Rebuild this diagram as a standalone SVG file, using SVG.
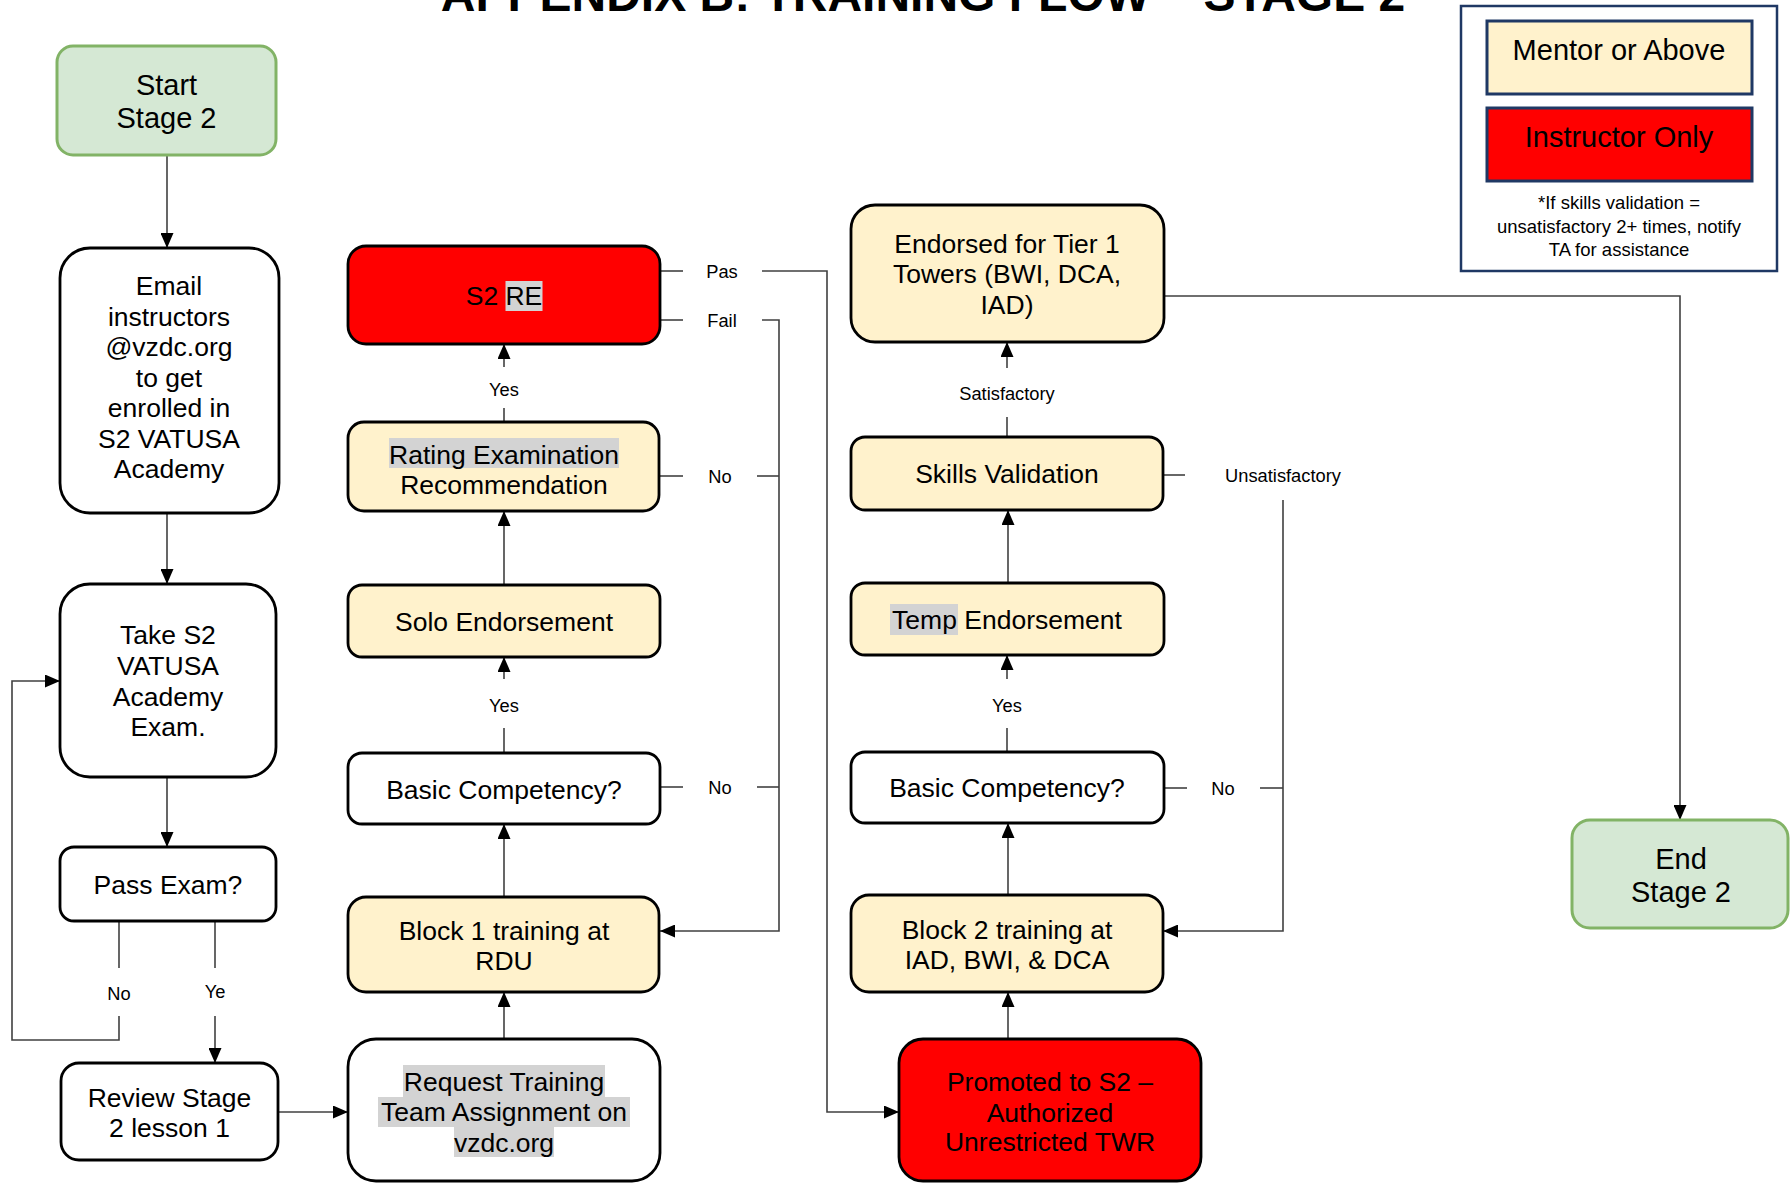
<svg xmlns="http://www.w3.org/2000/svg" width="1790" height="1183" viewBox="0 0 1790 1183">
  <defs>
    <style>
      .t { font-family: "Liberation Sans", Arial, sans-serif; font-size: 26.5px; text-anchor: middle; fill: #000; }
      .big { font-size: 29px; }
      .lbl { font-size: 18.3px; }
      .note { font-size: 18.5px; }
      .title { font-family: "Liberation Sans", Arial, sans-serif; font-size: 48px; font-weight: bold; text-anchor: middle; fill: #000; }
      .box { stroke: #000; stroke-width: 2.8; }
      .white { fill: #fff; }
      .cream { fill: #fff2cc; }
      .red { fill: #ff0000; }
      .green { fill: #d5e8d4; stroke: #82b366; stroke-width: 3; }
      .hl { fill: #d3d3d3; }
      .legend { fill: #fff; stroke: #1f3864; stroke-width: 2.5; }
      .lbox { stroke: #1f3864; stroke-width: 3; }
      .conn { fill: none; stroke: #404040; stroke-width: 1.6; }
    </style>
    <marker id="arrow" viewBox="0 0 15 13" markerWidth="15" markerHeight="13" refX="15" refY="6.5" orient="auto" markerUnits="userSpaceOnUse">
      <path d="M0,0 L15,6.5 L0,13 z" fill="#000"/>
    </marker>
  </defs>

  <rect width="1790" height="1183" fill="#fff"/>

  <!-- page heading, clipped by the top edge -->
  <text class="title" x="923" y="11">APPENDIX B: TRAINING FLOW – STAGE 2</text>

  <!-- legend -->
  <g id="legend">
    <rect class="legend" x="1461" y="6" width="316" height="265"/>
    <rect class="lbox cream" x="1487" y="21" width="265" height="73"/>
    <text class="t big" x="1619" y="60">Mentor or Above</text>
    <rect class="lbox red" x="1487" y="108" width="265" height="73"/>
    <text class="t big" x="1619" y="147">Instructor Only</text>
    <text class="t note" x="1619" y="209">*If skills validation =</text>
    <text class="t note" x="1619" y="232.5">unsatisfactory 2+ times, notify</text>
    <text class="t note" x="1619" y="255.5">TA for assistance</text>
  </g>

  <!-- connectors -->
  <g id="connectors">
    <path class="conn" d="M167,155 V248" marker-end="url(#arrow)"/>
    <path class="conn" d="M167,513 V584" marker-end="url(#arrow)"/>
    <path class="conn" d="M167,777 V847" marker-end="url(#arrow)"/>
    <!-- Pass Exam? branches -->
    <path class="conn" d="M119,921 V968"/>
    <path class="conn" d="M119,1016 V1040 H12 V681 H60" marker-end="url(#arrow)"/>
    <text class="t lbl" x="119" y="999.5">No</text>
    <path class="conn" d="M215,921 V968"/>
    <path class="conn" d="M215,1016 V1063" marker-end="url(#arrow)"/>
    <text class="t lbl" x="215" y="997.5">Ye</text>
    <path class="conn" d="M278,1112 H348" marker-end="url(#arrow)"/>
    <!-- block 1 column -->
    <path class="conn" d="M504,1039 V992" marker-end="url(#arrow)"/>
    <path class="conn" d="M504,897 V824" marker-end="url(#arrow)"/>
    <path class="conn" d="M504,753 V728"/>
    <path class="conn" d="M504,679 V657" marker-end="url(#arrow)"/>
    <text class="t lbl" x="504" y="711.5">Yes</text>
    <path class="conn" d="M504,585 V511" marker-end="url(#arrow)"/>
    <path class="conn" d="M504,422 V408"/>
    <path class="conn" d="M504,367 V344" marker-end="url(#arrow)"/>
    <text class="t lbl" x="504" y="395.5">Yes</text>
    <!-- S2 RE outcomes -->
    <path class="conn" d="M660,271 H683"/>
    <path class="conn" d="M762,271 H827 V1112 H899" marker-end="url(#arrow)"/>
    <text class="t lbl" x="722" y="277.5">Pas</text>
    <path class="conn" d="M660,320 H683"/>
    <path class="conn" d="M762,320 H779 V931 H660" marker-end="url(#arrow)"/>
    <text class="t lbl" x="722" y="326.5">Fail</text>
    <path class="conn" d="M660,476 H683"/>
    <path class="conn" d="M757,476 H779"/>
    <text class="t lbl" x="720" y="482.5">No</text>
    <path class="conn" d="M660,787 H683"/>
    <path class="conn" d="M757,787 H779"/>
    <text class="t lbl" x="720" y="793.5">No</text>
    <!-- block 2 column -->
    <path class="conn" d="M1008,1039 V992" marker-end="url(#arrow)"/>
    <path class="conn" d="M1008,895 V823" marker-end="url(#arrow)"/>
    <path class="conn" d="M1007,752 V728"/>
    <path class="conn" d="M1007,679 V655" marker-end="url(#arrow)"/>
    <text class="t lbl" x="1007" y="711.5">Yes</text>
    <path class="conn" d="M1008,583 V510" marker-end="url(#arrow)"/>
    <path class="conn" d="M1007,437 V417"/>
    <path class="conn" d="M1007,368 V342" marker-end="url(#arrow)"/>
    <text class="t lbl" x="1007" y="399.5">Satisfactory</text>
    <path class="conn" d="M1163,475 H1185"/>
    <path class="conn" d="M1283,500 V931 H1163" marker-end="url(#arrow)"/>
    <text class="t lbl" x="1283" y="481.5">Unsatisfactory</text>
    <path class="conn" d="M1164,788 H1187"/>
    <path class="conn" d="M1260,788 H1283"/>
    <text class="t lbl" x="1223" y="794.5">No</text>
    <path class="conn" d="M1164,296 H1680 V820" marker-end="url(#arrow)"/>
  </g>

  <!-- nodes -->
  <g id="start">
    <rect class="green" x="57" y="46" width="219" height="109" rx="16"/>
    <text class="t big" x="166.5" y="95">Start</text>
    <text class="t big" x="166.5" y="128">Stage 2</text>
  </g>

  <g id="email">
    <rect class="box white" x="60" y="248" width="219" height="265" rx="30"/>
    <text class="t" x="169" y="295">Email</text>
    <text class="t" x="169" y="325.5">instructors</text>
    <text class="t" x="169" y="356">@vzdc.org</text>
    <text class="t" x="169" y="386.5">to get</text>
    <text class="t" x="169" y="417">enrolled in</text>
    <text class="t" x="169" y="447.5">S2 VATUSA</text>
    <text class="t" x="169" y="478">Academy</text>
  </g>

  <g id="take-exam">
    <rect class="box white" x="60" y="584" width="216" height="193" rx="30"/>
    <text class="t" x="168" y="644">Take S2</text>
    <text class="t" x="168" y="675">VATUSA</text>
    <text class="t" x="168" y="706">Academy</text>
    <text class="t" x="168" y="736">Exam.</text>
  </g>

  <g id="pass-exam">
    <rect class="box white" x="60" y="847" width="216" height="74" rx="14"/>
    <text class="t" x="168" y="894">Pass Exam?</text>
  </g>

  <g id="review">
    <rect class="box white" x="61" y="1063" width="217" height="97" rx="18"/>
    <text class="t" x="169.5" y="1107">Review Stage</text>
    <text class="t" x="169.5" y="1137">2 lesson 1</text>
  </g>

  <g id="s2-re">
    <rect class="box red" x="348" y="246" width="312" height="98" rx="18"/>
    <rect class="hl" x="505.5" y="281" width="37" height="30"/>
    <text class="t" x="504" y="305">S2 RE</text>
  </g>

  <g id="rating-rec">
    <rect class="box cream" x="348" y="422" width="311" height="89" rx="16"/>
    <rect class="hl" x="389" y="438" width="230" height="30"/>
    <text class="t" x="504" y="464">Rating Examination</text>
    <text class="t" x="504" y="494">Recommendation</text>
  </g>

  <g id="solo">
    <rect class="box cream" x="348" y="585" width="312" height="72" rx="14"/>
    <text class="t" x="504" y="631">Solo Endorsement</text>
  </g>

  <g id="basic-1">
    <rect class="box white" x="348" y="753" width="312" height="71" rx="14"/>
    <text class="t" x="504" y="799">Basic Competency?</text>
  </g>

  <g id="block-1">
    <rect class="box cream" x="348" y="897" width="311" height="95" rx="18"/>
    <text class="t" x="504" y="940">Block 1 training at</text>
    <text class="t" x="504" y="970">RDU</text>
  </g>

  <g id="request">
    <rect class="box white" x="348" y="1039" width="312" height="142" rx="28"/>
    <rect class="hl" x="403" y="1065" width="202" height="32"/>
    <rect class="hl" x="378" y="1097" width="252" height="30"/>
    <rect class="hl" x="454" y="1127" width="100" height="30"/>
    <text class="t" x="504" y="1091">Request Training</text>
    <text class="t" x="504" y="1121">Team Assignment on</text>
    <text class="t" x="504" y="1152">vzdc.org</text>
  </g>

  <g id="endorsed-tier1">
    <rect class="box cream" x="851" y="205" width="313" height="137" rx="24"/>
    <text class="t" x="1007" y="253">Endorsed for Tier 1</text>
    <text class="t" x="1007" y="283">Towers (BWI, DCA,</text>
    <text class="t" x="1007" y="314">IAD)</text>
  </g>

  <g id="skills">
    <rect class="box cream" x="851" y="437" width="312" height="73" rx="14"/>
    <text class="t" x="1007" y="483">Skills Validation</text>
  </g>

  <g id="temp">
    <rect class="box cream" x="851" y="583" width="313" height="72" rx="14"/>
    <rect class="hl" x="890" y="604" width="68" height="31"/>
    <text class="t" x="1007" y="629">Temp Endorsement</text>
  </g>

  <g id="basic-2">
    <rect class="box white" x="851" y="752" width="313" height="71" rx="14"/>
    <text class="t" x="1007" y="797">Basic Competency?</text>
  </g>

  <g id="block-2">
    <rect class="box cream" x="851" y="895" width="312" height="97" rx="18"/>
    <text class="t" x="1007" y="939">Block 2 training at</text>
    <text class="t" x="1007" y="969">IAD, BWI, &amp; DCA</text>
  </g>

  <g id="promoted">
    <rect class="box red" x="899" y="1039" width="302" height="142" rx="24"/>
    <text class="t" x="1050" y="1091">Promoted to S2 –</text>
    <text class="t" x="1050" y="1122">Authorized</text>
    <text class="t" x="1050" y="1151">Unrestricted TWR</text>
  </g>

  <g id="end">
    <rect class="green" x="1572" y="820" width="216" height="108" rx="18"/>
    <text class="t big" x="1681" y="869">End</text>
    <text class="t big" x="1681" y="902">Stage 2</text>
  </g>
</svg>
